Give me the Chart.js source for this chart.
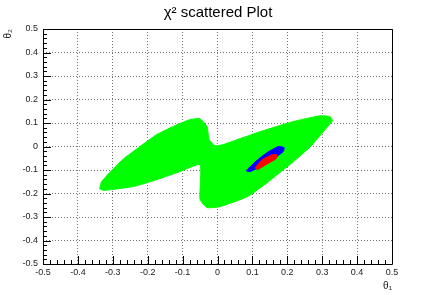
<!DOCTYPE html>
<html>
<head>
<meta charset="utf-8">
<script src="https://cdn.jsdelivr.net/npm/chart.js@4/dist/chart.umd.min.js"></script>
<style>
html,body{margin:0;padding:0;background:#fff;}
canvas{display:block;}
</style>
</head>
<body>
<canvas id="c" width="436" height="295"></canvas>
<script>
// Tick values for both axes
const theta1Ticks = [-0.5,-0.4,-0.3,-0.2,-0.1,0,0.1,0.2,0.3,0.4,0.5];
const theta2Ticks = [-0.5,-0.4,-0.3,-0.2,-0.1,0,0.1,0.2,0.3,0.4,0.5];

// Outline of the green (outer) chi2 region
const greenTheta1 = [-0.338,-0.332,-0.309,-0.272,-0.223,-0.175,-0.129,-0.080,-0.050,-0.030,-0.024,-0.007,0.016,0.056,0.122,0.217,0.295,0.323,0.329,0.303,0.266,0.217,0.142,0.085,0.007,-0.030,-0.050,-0.050,-0.108,-0.174,-0.243,-0.309,-0.326];
const greenTheta2 = [-0.180,-0.150,-0.111,-0.056,-0.001,0.050,0.084,0.114,0.118,0.084,0.029,0.003,0.008,0.029,0.063,0.106,0.131,0.127,0.110,0.063,-0.001,-0.065,-0.154,-0.214,-0.256,-0.260,-0.226,-0.077,-0.107,-0.141,-0.171,-0.184,-0.187];

// Outline of the blue (middle) region
const blueTheta1 = [0.082,0.108,0.142,0.174,0.191,0.188,0.157,0.122,0.093];
const blueTheta2 = [-0.103,-0.065,-0.026,0.000,-0.005,-0.022,-0.056,-0.086,-0.107];

// Outline of the red (inner) region
const redTheta1 = [0.108,0.128,0.157,0.171,0.168,0.139,0.114];
const redTheta2 = [-0.090,-0.056,-0.035,-0.035,-0.052,-0.077,-0.099];

function poly(xs, ys){
  const pts = xs.map((x,i)=>({x:x, y:ys[i]}));
  pts.push({x:xs[0], y:ys[0]});
  return pts;
}
function fmt(v){
  const r = Math.round(v*10)/10;
  return r === 0 ? '0' : String(r);
}

const FONT = "'Liberation Sans', Arial, Helvetica, sans-serif";

const rootFrame = {
  id:'rootFrame',
  afterDraw(chart){
    const ctx = chart.ctx;
    const a = chart.chartArea;
    const xs = chart.scales.x, ys = chart.scales.y;
    ctx.save();
    ctx.strokeStyle = '#000';
    ctx.lineWidth = 1;
    // inside tick marks (major every 0.1, minor every 0.02)
    ctx.beginPath();
    for(let i=-25;i<=25;i++){
      const v = i/50;
      const major = (i % 5 === 0);
      const len = major ? 8 : 4;
      const px = Math.round(xs.getPixelForValue(v)) + 0.5;
      ctx.moveTo(px, a.bottom); ctx.lineTo(px, a.bottom - len);
      const py = Math.round(ys.getPixelForValue(v)) + 0.5;
      ctx.moveTo(a.left, py); ctx.lineTo(a.left + len, py);
    }
    ctx.stroke();
    // frame
    ctx.beginPath();
    ctx.rect(Math.round(a.left)+0.5, Math.round(a.top)+0.5, Math.round(a.right-a.left), Math.round(a.bottom-a.top));
    ctx.stroke();
    ctx.restore();
  }
};

const mk = (xs, ys, color) => ({
  data: poly(xs, ys),
  showLine: true,
  fill: 'shape',
  backgroundColor: color,
  borderColor: color,
  borderWidth: 1,
  pointRadius: 0,
  tension: 0.15
});

const gridOpts = { drawTicks: false, color: 'rgba(0,0,0,0.55)', lineWidth: 1 };

new Chart(document.getElementById('c'), {
  type: 'scatter',
  data: {
    datasets: [
      mk(redTheta1, redTheta2, '#ff0000'),
      mk(blueTheta1, blueTheta2, '#0000ff'),
      mk(greenTheta1, greenTheta2, '#00ff00')
    ]
  },
  options: {
    responsive: false,
    animation: false,
    devicePixelRatio: 1,
    layout: { padding: 0 },
    plugins: {
      legend: { display: false },
      tooltip: { enabled: false },
      title: {
        display: true,
        text: 'χ² scattered Plot',
        color: '#000',
        font: { family: FONT, size: 15, weight: 'normal', lineHeight: 1.2 },
        padding: { top: 4, bottom: 7 }
      }
    },
    scales: {
      x: {
        type: 'linear', min: -0.5, max: 0.5,
        afterBuildTicks: s => { s.ticks = theta1Ticks.map(v => ({value: v})); },
        afterFit: s => { s.height = 31; },
        border: { display: false, dash: [1,2] },
        grid: gridOpts,
        ticks: {
          padding: 3, color: '#222', maxRotation: 0, autoSkip: false,
          font: { family: FONT, size: 9 },
          callback: v => fmt(v)
        },
        title: {
          display: true, text: 'θ₁', align: 'end', color: '#222',
          font: { family: FONT, size: 10 }, padding: { top: 0, bottom: 3 }
        }
      },
      y: {
        type: 'linear', min: -0.5, max: 0.5,
        afterBuildTicks: s => { s.ticks = theta2Ticks.map(v => ({value: v})); },
        afterFit: s => { s.width = 43; },
        border: { display: false, dash: [1,2] },
        grid: gridOpts,
        ticks: {
          padding: 5, color: '#222', autoSkip: false,
          font: { family: FONT, size: 9 },
          callback: v => fmt(v)
        },
        title: {
          display: true, text: 'θ₂', align: 'end', color: '#222',
          font: { family: FONT, size: 10 }, padding: { top: 2, bottom: 0 }
        }
      },
      yRightMargin: {
        type: 'linear', position: 'right', min: -0.5, max: 0.5,
        afterFit: s => { s.width = 44; },
        border: { display: false },
        grid: { display: false, drawTicks: false },
        ticks: { display: false }
      }
    }
  },
  plugins: [rootFrame]
});
</script>
</body>
</html>
